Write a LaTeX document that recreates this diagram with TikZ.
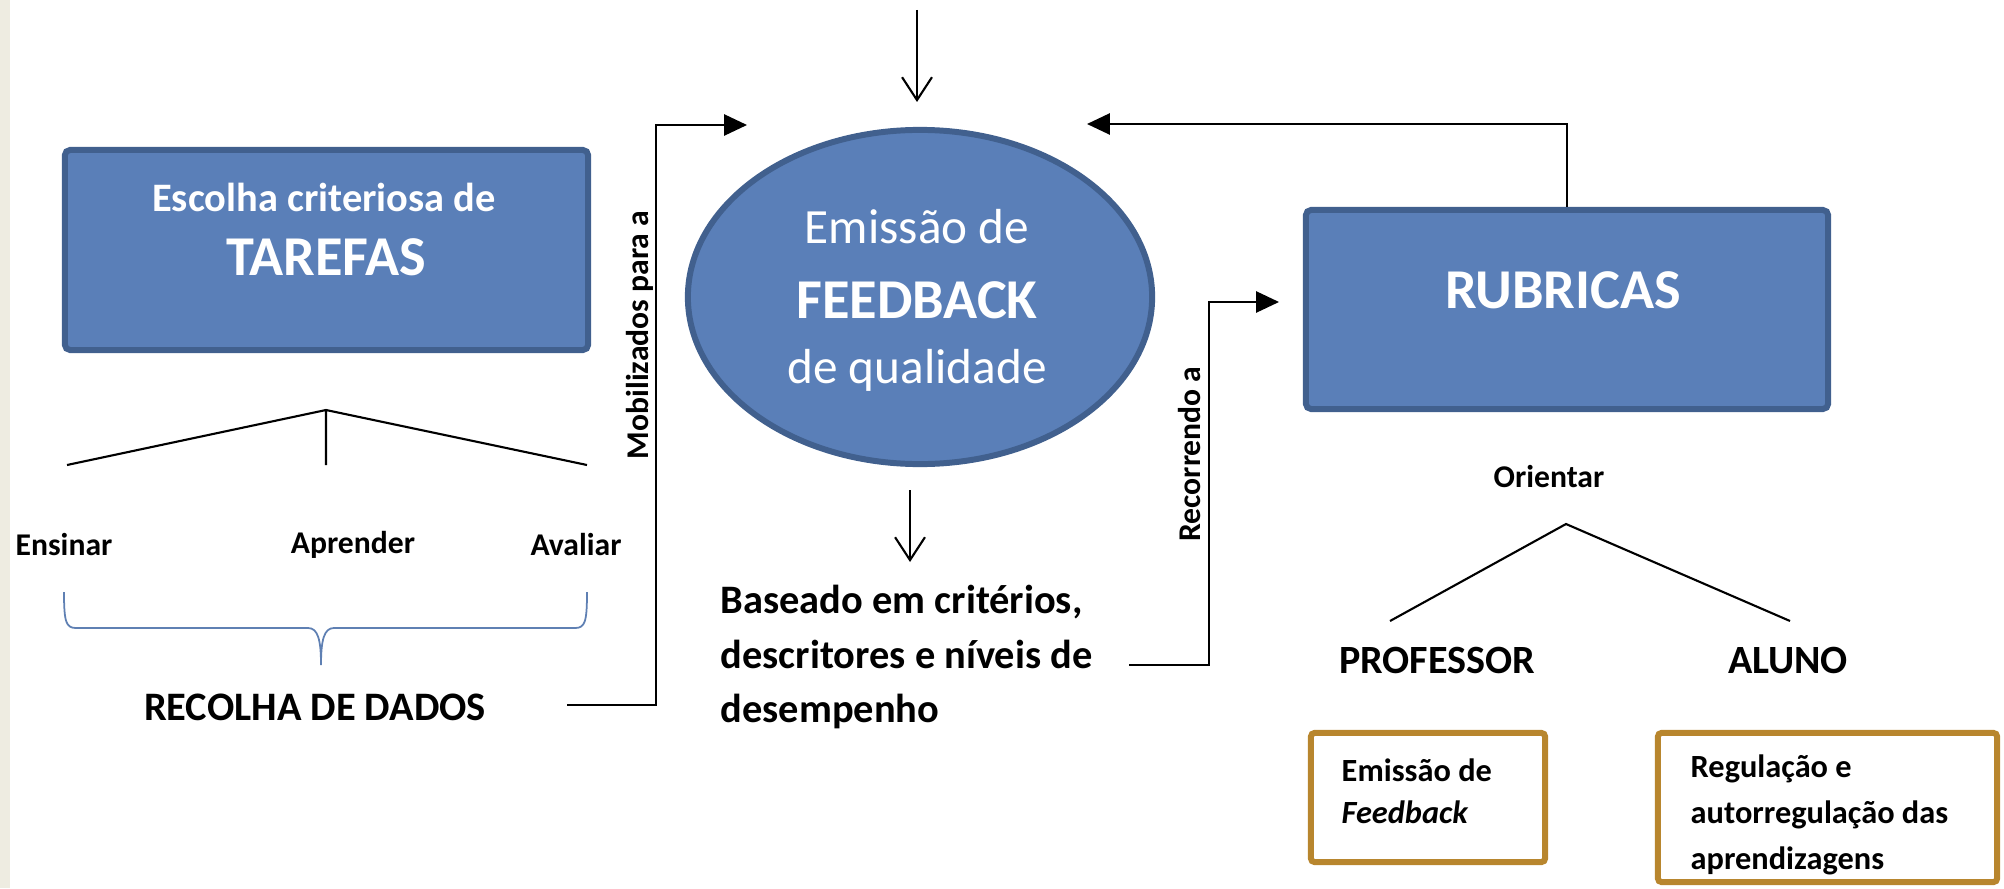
\documentclass[tikz,border=0pt]{standalone}
\usepackage{fontspec}
\setmainfont{Carlito}
\usepackage{tikz}
\usetikzlibrary{arrows.meta,shapes.geometric}
\definecolor{boxfill}{HTML}{5A7FB8}
\definecolor{boxedge}{HTML}{41608E}
\definecolor{gold}{HTML}{B8862E}
\definecolor{bracecol}{HTML}{5F80B3}
\definecolor{slide}{HTML}{EEECE1}

\begin{document}
\begin{tikzpicture}[x=0.01cm, y=-0.01cm,
    bluebox/.style={draw=boxedge, fill=boxfill, line width=1.7pt},
    goldbox/.style={draw=gold, line width=1.7pt, rounded corners=1pt},
    wt/.style={text=white, inner sep=0pt},
    bt/.style={inner sep=0pt, font=\fontsize{9}{11}\bfseries\selectfont},
    conn/.style={line width=0.6pt},
    tri/.style={conn, -{Triangle[length=6.5pt, width=6pt]}},
    barb/.style={conn, -{Straight Barb[length=6.5pt, width=8.5pt, line width=0.6pt]}}]
      \useasboundingbox (0,0) rectangle (2004,888);
      \fill[slide] (0,0) rectangle (10,888);
      \node (T) at (326.5,250)  [bluebox, rounded corners=1.5pt, minimum width=5.23cm, minimum height=2cm] {};
      \node (Tt) at (324,197) [wt, font=\fontsize{11.5}{13}\bfseries\selectfont] {Escolha criteriosa de};
      \node (Tb) at (326,257) [wt, font=\fontsize{16}{18}\bfseries\selectfont] {TAREFAS};
      \node (FB) at (920,297)  [bluebox, ellipse, minimum width=4.64cm, minimum height=3.34cm] {};
      \node (FBa) at (917,227) [wt, font=\fontsize{14}{16}\selectfont] {Emissão de};
      \node (FBb) at (917,300) [wt, font=\fontsize{16}{18}\bfseries\selectfont] {FEEDBACK};
      \node (FBc) at (917,370) [wt, font=\fontsize{14}{16}\selectfont] {de qualidade};
      \node (R) at (1567,309.5)  [bluebox, rounded corners=1.5pt, minimum width=5.22cm, minimum height=1.99cm] {};
      \node (Rt) at (1563,290) [wt, font=\fontsize{16}{18}\bfseries\selectfont] {RUBRICAS};
      \coordinate (La) at (326,410);
      \coordinate (Ll) at (67,465);
      \coordinate (Lm) at (326,465);
      \coordinate (Lr) at (587,465);
      \draw[conn] (Ll) -- (La) -- (Lr) (La) -- (Lm);
      \node (Ens) at (64,545) [bt] {Ensinar};
      \node (Apr) at (353,545) [bt] {Aprender};
      \node (Ava) at (576,545) [bt] {Avaliar};
      \draw[bracecol, line width=0.5pt] (64,592) .. controls (64,622) and (66,628) .. (76,628) -- (308,628)
        .. controls (318,628) and (321,640) .. (321,665) .. controls (321,640) and (324,628) .. (334,628)
        -- (575,628) .. controls (585,628) and (587,622) .. (587,592);
      \node (Dados) at (315,707) [bt, font=\fontsize{11.5}{13}\bfseries\selectfont] {RECOLHA DE DADOS};
      \coordinate (m0) at (567,705);
      \coordinate (m1) at (656,125);
      \coordinate (m2) at (747,125);
      \draw[tri] (m0) -| (m1) -- (m2);
      \node (Mob) at (640,335) [bt, rotate=90] {Mobilizados para a};
      \coordinate (t0) at (917,10);
      \coordinate (t1) at (917,102);
      \draw[barb] (t0) -- (t1);
      \coordinate (f1) at (1087,124);
      \draw[tri] (R.north) |- (f1);
      \coordinate (d0) at (910,490);
      \coordinate (d1) at (910,562);
      \draw[barb] (d0) -- (d1);
      \node (Bas) at (720,657) [anchor=west, align=left, inner sep=0pt, font=\fontsize{11.5}{15.6}\bfseries\selectfont]
        {Baseado em critérios,\\descritores e níveis de\\desempenho};
      \coordinate (r0) at (1129,665);
      \coordinate (r1) at (1209,302);
      \coordinate (r2) at (1279,302);
      \draw[tri] (r0) -| (r1) -- (r2);
      \node (Rec) at (1189,454) [bt, rotate=90] {Recorrendo a};
      \node (Ori) at (1549,477) [bt] {Orientar};
      \coordinate (Ra) at (1566,524);
      \coordinate (Rl) at (1390,621);
      \coordinate (Rr) at (1790,621);
      \draw[conn] (Rl) -- (Ra) -- (Rr);
      \node (Prof) at (1437,660) [bt, font=\fontsize{11.4}{13}\bfseries\selectfont] {PROFESSOR};
      \node (Alu) at (1788,660) [bt, font=\fontsize{11.4}{13}\bfseries\selectfont] {ALUNO};
      \node (P1) at (1428,797.5)  [goldbox, minimum width=2.34cm, minimum height=1.29cm] {};
      \node (P1t) at (1341,791) [anchor=west, align=left, inner sep=0pt, font=\fontsize{9.2}{12}\bfseries\selectfont]
        {Emissão de\\\textit{Feedback}};
      \node (A1) at (1827.5,807.5)  [goldbox, minimum width=3.39cm, minimum height=1.49cm] {};
      \node (A1t) at (1690,815) [anchor=west, align=left, inner sep=0pt, font=\fontsize{9.2}{13}\bfseries\selectfont]
        {Regulação e\\autorregulação das\\aprendizagens};
    \end{tikzpicture}
\end{document}
